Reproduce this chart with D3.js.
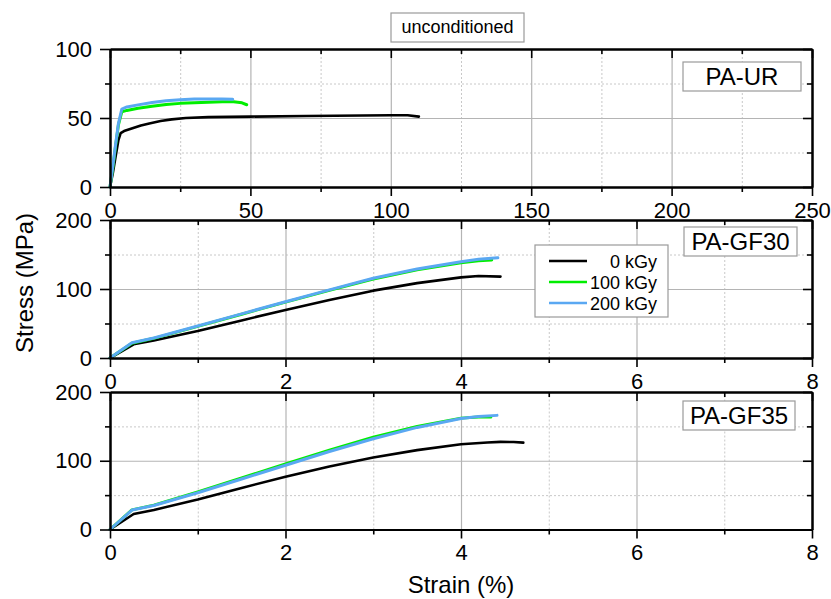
<!DOCTYPE html>
<html>
<head>
<meta charset="utf-8">
<script src="https://cdn.jsdelivr.net/npm/d3@7"></script>
<style>
  body { margin: 0; background: #fff; }
  svg text { font-family: "Liberation Sans", Arial, sans-serif; fill: #000; }
</style>
</head>
<body>
<div class="chart"></div>
<script>
// series names
const doses = ['0 kGy', '100 kGy', '200 kGy']
const panelNames = ['PA-UR', 'PA-GF30', 'PA-GF35']
const title = 'unconditioned'

// tick labels
const urStrainTicks = [0, 50, 100, 150, 200, 250]
const urStressTicks = [0, 50, 100]
const gfStrainTicks = [0, 2, 4, 6, 8]
const gfStressTicks = [0, 100, 200]

// PA-UR curves (strain %, stress MPa)
const urStrain0 = [0, 1, 2, 3, 3.8, 5, 8, 11, 14, 18, 22, 27, 35, 50, 70, 90, 100, 106, 110]
const urStress0 = [0, 10, 22, 34, 39, 40.5, 42.5, 44.5, 46, 47.8, 49, 50, 50.6, 51, 51.5, 51.8, 52, 52, 51]
const urStrain100 = [0, 1, 2, 3, 4.2, 6, 10, 15, 20, 25, 30, 35, 40, 44, 47, 48.7]
const urStress100 = [0, 14, 30, 45, 54.5, 55.5, 57, 58.5, 59.8, 60.6, 61, 61.5, 61.8, 61.8, 61, 59.6]
const urStrain200 = [0, 1, 2, 3, 4.2, 6, 10, 15, 20, 25, 30, 35, 40, 43.7]
const urStress200 = [0, 15, 31, 46, 56.5, 58, 59.5, 61.2, 62.5, 63.3, 63.7, 63.8, 63.7, 63.5]

// PA-GF30 curves
const gf30Strain0 = [0, 0.27, 0.5, 1.0, 1.5, 2.0, 2.5, 3.0, 3.5, 4.0, 4.2, 4.45]
const gf30Stress0 = [0, 19.8, 25.5, 39, 54.5, 69.6, 84, 97.6, 108.5, 116.9, 118.8, 118]
const gf30Strain100 = [0, 0.25, 0.5, 1.0, 1.5, 2.0, 2.5, 3.0, 3.5, 4.0, 4.2, 4.35]
const gf30Stress100 = [0, 21.5, 28.5, 45.8, 63.5, 81, 98, 114.5, 127.8, 138, 140.8, 142]
const gf30Strain200 = [0, 0.25, 0.5, 1.0, 1.5, 2.0, 2.5, 3.0, 3.5, 4.0, 4.2, 4.42]
const gf30Stress200 = [0, 22.2, 29, 46.4, 64, 81.6, 98.8, 115.5, 129, 139.6, 143, 145.2]

// PA-GF35 curves
const gf35Strain0 = [0, 0.27, 0.5, 1.0, 1.5, 2.0, 2.5, 3.0, 3.5, 4.0, 4.3, 4.45, 4.6, 4.71]
const gf35Stress0 = [0, 22.5, 28.5, 43.7, 60.5, 76.6, 91.5, 104.6, 115.5, 123.9, 126.5, 127.5, 127.2, 126.4]
const gf35Strain100 = [0, 0.25, 0.5, 1.0, 1.5, 2.0, 2.5, 3.0, 3.5, 4.0, 4.2, 4.34]
const gf35Stress100 = [0, 28.5, 35.5, 54.5, 75, 95.5, 115.5, 134.3, 150, 162, 163.8, 163.8]
const gf35Strain200 = [0, 0.25, 0.5, 1.0, 1.5, 2.0, 2.5, 3.0, 3.5, 4.0, 4.2, 4.41]
const gf35Stress200 = [0, 28.3, 35, 53.4, 73.5, 93.5, 113.5, 132, 148.5, 161.5, 164.5, 166]

const colors = ['#000000', '#00ee00', '#5aa8f2']

const zip = (xs, ys) => xs.map((x, i) => [x, ys[i]])

const panels = [
  { name: panelNames[0], top: 49, bottom: 187, xTicks: urStrainTicks, yTicks: urStressTicks,
    xMinor: 25, yMinor: 25,
    series: [zip(urStrain0, urStress0), zip(urStrain100, urStress100), zip(urStrain200, urStress200)],
    box: [683, 62, 118, 29] },
  { name: panelNames[1], top: 220, bottom: 358, xTicks: gfStrainTicks, yTicks: gfStressTicks,
    xMinor: 1, yMinor: 50,
    series: [zip(gf30Strain0, gf30Stress0), zip(gf30Strain100, gf30Stress100), zip(gf30Strain200, gf30Stress200)],
    box: [684, 227, 113, 29] },
  { name: panelNames[2], top: 392, bottom: 529.5, xTicks: gfStrainTicks, yTicks: gfStressTicks,
    xMinor: 1, yMinor: 50,
    series: [zip(gf35Strain0, gf35Stress0), zip(gf35Strain100, gf35Stress100), zip(gf35Strain200, gf35Stress200)],
    box: [683, 401, 112, 29] }
]

let w = 831,
    h = 599,
    left = 110,
    right = 812

const svg = d3.select('.chart')
              .append('svg')
              .attr('width', w)
              .attr('height', h)

const minorValues = (ticks, step) => {
  let out = []
  for (let v = ticks[0] + step; v < ticks[ticks.length - 1]; v += step) {
    if (!ticks.some(t => Math.abs(t - v) < 1e-9)) out.push(v)
  }
  return out
}

panels.forEach((p) => {
  const x = d3.scaleLinear()
              .domain([p.xTicks[0], p.xTicks[p.xTicks.length - 1]])
              .range([left, right])
  const y = d3.scaleLinear()
              .domain([p.yTicks[0], p.yTicks[p.yTicks.length - 1]])
              .range([p.bottom, p.top])
  const ph = p.bottom - p.top
  const pw = right - left
  const xm = minorValues(p.xTicks, p.xMinor)
  const ym = minorValues(p.yTicks, p.yMinor)

  const g = svg.append('g')

  // minor grid (dotted)
  g.append('g')
   .attr('transform', `translate(0,${p.bottom})`)
   .call(d3.axisBottom(x).tickValues(xm).tickSize(-ph).tickFormat(''))
   .call(s => s.select('.domain').remove())
   .call(s => s.selectAll('line').attr('stroke', '#c8c8c8').attr('stroke-dasharray', '2,2'))
  g.append('g')
   .attr('transform', `translate(${left},0)`)
   .call(d3.axisLeft(y).tickValues(ym).tickSize(-pw).tickFormat(''))
   .call(s => s.select('.domain').remove())
   .call(s => s.selectAll('line').attr('stroke', '#c8c8c8').attr('stroke-dasharray', '2,2'))

  // major grid
  g.append('g')
   .attr('transform', `translate(0,${p.bottom})`)
   .call(d3.axisBottom(x).tickValues(p.xTicks).tickSize(-ph).tickFormat(''))
   .call(s => s.select('.domain').remove())
   .call(s => s.selectAll('line').attr('stroke', '#b4b4b4').attr('stroke-width', 1.2))
  g.append('g')
   .attr('transform', `translate(${left},0)`)
   .call(d3.axisLeft(y).tickValues(p.yTicks).tickSize(-pw).tickFormat(''))
   .call(s => s.select('.domain').remove())
   .call(s => s.selectAll('line').attr('stroke', '#b4b4b4').attr('stroke-width', 1.2))

  // curves
  const line = d3.line().x(d => x(d[0])).y(d => y(d[1]))
  p.series.forEach((s, i) => {
    g.append('path')
     .datum(s)
     .attr('d', line)
     .attr('fill', 'none')
     .attr('stroke', colors[i])
     .attr('stroke-width', i === 0 ? 2.6 : 3)
     .attr('stroke-linejoin', 'round')
     .attr('stroke-linecap', 'round')
  })

  // panel label box
  g.append('rect')
   .attr('x', p.box[0]).attr('y', p.box[1])
   .attr('width', p.box[2]).attr('height', p.box[3])
   .attr('fill', '#fff').attr('stroke', '#9a9a9a').attr('stroke-width', 1.2)
  g.append('text')
   .attr('x', p.box[0] + p.box[2] / 2)
   .attr('y', p.box[1] + p.box[3] / 2 + 8.5)
   .attr('text-anchor', 'middle')
   .style('font-size', '24px')
   .text(p.name)

  // axes
  const styleAxis = (s) => {
    s.select('.domain').attr('stroke-width', 2)
    s.selectAll('line').attr('stroke-width', 1.6)
    s.selectAll('text').style('font-size', '22px').style('font-family', '"Liberation Sans", Arial, sans-serif')
  }
  g.append('g')
   .attr('transform', `translate(0,${p.bottom})`)
   .call(d3.axisBottom(x).tickValues(xm).tickSize(5).tickSizeOuter(0).tickFormat(''))
   .call(styleAxis)
  g.append('g')
   .attr('transform', `translate(0,${p.bottom})`)
   .call(d3.axisBottom(x).tickValues(p.xTicks).tickSize(9).tickSizeOuter(0).tickPadding(6).tickFormat(d3.format('d')))
   .call(styleAxis)
  g.append('g')
   .attr('transform', `translate(0,${p.top})`)
   .call(d3.axisTop(x).tickValues(xm).tickSize(-5).tickSizeOuter(0).tickFormat(''))
   .call(styleAxis)
  g.append('g')
   .attr('transform', `translate(0,${p.top})`)
   .call(d3.axisTop(x).tickValues(p.xTicks).tickSize(-9).tickSizeOuter(0).tickFormat(''))
   .call(styleAxis)
  g.append('g')
   .attr('transform', `translate(${left},0)`)
   .call(d3.axisLeft(y).tickValues(ym).tickSize(5).tickSizeOuter(0).tickFormat(''))
   .call(styleAxis)
  g.append('g')
   .attr('transform', `translate(${left},0)`)
   .call(d3.axisLeft(y).tickValues(p.yTicks).tickSize(10).tickSizeOuter(0).tickPadding(8).tickFormat(d3.format('d')))
   .call(styleAxis)
  g.append('g')
   .attr('transform', `translate(${right},0)`)
   .call(d3.axisRight(y).tickValues(ym).tickSize(-5).tickSizeOuter(0).tickFormat(''))
   .call(styleAxis)
  g.append('g')
   .attr('transform', `translate(${right},0)`)
   .call(d3.axisRight(y).tickValues(p.yTicks).tickSize(-9).tickSizeOuter(0).tickFormat(''))
   .call(styleAxis)
})

// title box
svg.append('rect')
   .attr('x', 391).attr('y', 13).attr('width', 133).attr('height', 29)
   .attr('fill', '#fff').attr('stroke', '#9a9a9a').attr('stroke-width', 1.2)
svg.append('text')
   .attr('x', 457.5).attr('y', 33)
   .attr('text-anchor', 'middle')
   .style('font-size', '18px')
   .text(title)

// legend
let legend = svg.append('g').attr('id', 'legend')
legend.append('rect')
      .attr('x', 535).attr('y', 245).attr('width', 133).attr('height', 72)
      .attr('fill', '#fff').attr('stroke', '#9a9a9a').attr('stroke-width', 1.2)
doses.forEach((d, i) => {
  const ly = 261 + i * 21
  legend.append('line')
        .attr('x1', 549).attr('x2', 587).attr('y1', ly).attr('y2', ly)
        .attr('stroke', colors[i]).attr('stroke-width', 2.6)
  legend.append('text')
        .attr('x', 657).attr('y', ly + 6.5)
        .attr('text-anchor', 'end')
        .style('font-size', '18px')
        .text(d)
})

// axis titles
svg.append('text')
   .attr('transform', 'translate(33,283) rotate(-90)')
   .attr('text-anchor', 'middle')
   .style('font-size', '24px')
   .text('Stress (MPa)')
svg.append('text')
   .attr('x', 461).attr('y', 593)
   .attr('text-anchor', 'middle')
   .style('font-size', '24px')
   .text('Strain (%)')
</script>
</body>
</html>
